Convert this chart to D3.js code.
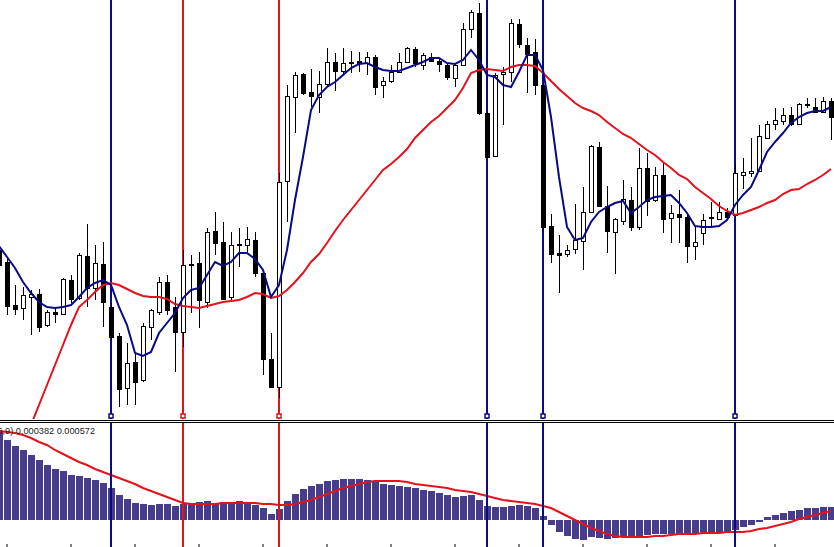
<!DOCTYPE html>
<html><head><meta charset="utf-8">
<script src="https://cdn.jsdelivr.net/npm/d3@7"></script>
<style>html,body{margin:0;padding:0;background:#fff;overflow:hidden}svg{display:block}</style>
</head><body><svg id="c" width="834" height="547"></svg>
<script>
// bar index (-1 = partially visible first bar)
const barIndex = d3.range(-1, 104);
// prices in points above 1.31000
const openP = [350,338,295,292,303,306,275,288,286,320,
 302,344,312,336,293,264,212,238,220,273,
 288,318,293,268,336,337,298,369,358,303,
 356,355,360,327,241,213,419,503,526,508,
 503,516,538,529,538,539,537,543,515,519,
 528,538,551,535,543,539,535,522,535,571,
 587,487,444,526,528,576,555,548,515,374,
 347,346,351,359,388,453,394,368,379,400,
 373,432,400,425,382,386,383,354,367,382,
 381,388,385,425,427,429,462,476,479,485,
 476,496,493,488,499];
const highP = [355,341,315,313,310,311,290,293,322,325,
 347,376,355,358,297,267,257,247,277,291,
 323,325,303,350,345,348,372,388,378,368,
 372,373,368,328,267,427,515,528,527,531,
 529,552,547,552,549,548,548,545,523,535,
 547,553,553,547,547,542,537,537,577,590,
 597,488,527,533,581,581,562,561,517,386,
 365,355,396,413,455,458,414,382,420,413,
 452,447,433,437,395,410,386,373,386,398,
 398,392,435,442,462,475,479,492,492,493,
 497,502,502,503,502];
const lowP = [332,285,285,280,265,268,273,277,285,297,
 300,293,300,273,260,193,195,195,218,260,
 285,285,228,253,287,272,292,345,300,300,
 333,348,323,225,212,202,378,467,505,493,
 487,513,509,525,527,528,525,505,502,517,
 527,537,533,530,538,528,520,513,535,562,
 485,442,443,475,518,552,507,505,370,337,
 307,343,346,330,388,393,347,326,375,369,
 370,384,398,367,357,357,337,340,355,373,
 380,383,385,411,423,429,461,470,475,474,
 475,492,487,487,460];
const closeP = [335,294,291,305,306,273,288,286,321,301,
 345,312,337,298,263,211,237,218,274,290,
 318,290,268,335,335,300,368,357,301,355,
 355,361,327,241,213,418,504,525,507,504,
 516,538,529,537,537,537,543,513,519,528,
 538,552,537,545,539,536,523,535,571,588,
 487,443,525,528,577,556,546,515,373,346,
 345,350,360,388,454,394,369,381,401,373,
 432,399,425,381,387,383,354,358,380,383,
 388,383,427,428,429,464,476,480,485,476,
 496,495,488,499,483];
const maFast = [354,343,332,318,307,298,293,292,293,295,
 303,312,317,320,315,293,275,247,244,248,
 267,277,287,302,310,312,325,338,334,338,
 347,347,341,330,303,315,350,400,443,490,
 505,513,518,525,532,536,537,533,530,529,
 529,532,535,538,542,542,537,536,540,550,
 540,525,523,515,513,528,545,545,530,483,
 423,373,360,362,378,388,393,397,399,387,
 393,400,403,404,405,397,387,374,373,373,
 374,380,395,405,413,430,448,458,467,477,
 483,487,489,489,493];
const maSlow = [null,null,null,null,175,195,215,235,255,275,
 293,300,308,315,317,315,311,307,304,303,
 303,301,296,294,293,292,294,296,298,299,
 300,303,307,306,302,304,310,318,327,338,
 346,357,369,380,390,400,410,420,430,436,
 443,451,462,470,478,484,492,500,512,527,
 530,531,530,529,533,535,535,534,527,519,
 511,504,497,492,489,485,478,472,466,462,
 456,450,445,438,432,425,421,413,407,401,
 394,389,385,387,390,393,397,400,406,410,
 411,416,420,425,431];
// MACD (12,26,9) in scaled units
const macdHist = [89,80,74,70,65,60,55,51,49,45,
 44,42,40,37,32,25,21,17,16,15,
 16,16,14,16,17,18,19,17,18,18,
 19,18,15,12,6,11,19,26,31,34,
 36,39,40,41,41,41,40,38,36,35,
 34,33,32,30,29,27,25,23,24,25,
 20,14,13,13,14,15,14,12,4,-5,
 -12,-16,-19,-20,-17,-18,-19,-18,-17,-17,
 -16,-15,-14,-14,-14,-14,-14,-14,-13,-13,
 -13,-13,-10,-7,-5,-2,3,5,7,9,
 10,12,12,13,13];
const macdSignal = [89,88,87,85,82,78,75,70,66,62,
 58,55,51,48,45,42,39,36,32,29,
 26,23,20,17,16,16,16,16,17,17,
 17,17,17,16,16,15,15,16,18,20,
 23,26,29,32,34,36,38,39,39,39,
 39,38,36,35,34,33,32,30,29,28,
 26,24,22,20,19,18,17,16,14,12,
 8,4,0,-4,-8,-11,-14,-16,-17,-17,
 -17,-17,-16,-16,-15,-14,-14,-14,-13,-13,
 -13,-12,-12,-12,-11,-9,-8,-6,-4,-2,
 1,3,5,7,9];
const vlineIdx = [13, 22, 34, 60, 67, 91];
const vlineKind = ["blue","red","red","blue","blue","blue"];
const tickIdx = [0,8,16,24,32,40,48,56,64,72,80,88,96];
const macdLabel = "MACD(12,26,9) 0.000382 0.000572";

const W = 834, H = 547;
const C = {blue:"#0a0a84", red:"#e3121c", hist:"#483d8b", ink:"#000"};
const svg = d3.select("#c");
const x = d3.scaleBand().domain(barIndex).range([-5, 835]).paddingInner(0);
const cx = i => x(i) + x.bandwidth() / 2;
const y = d3.scaleLinear().domain([182, 600]).range([418, 0]);
const ym = d3.scaleLinear().domain([-27, 98]).range([547, 422]);

const defs = svg.append("defs");
defs.append("clipPath").attr("id","cm").append("rect").attr("x",0).attr("y",0).attr("width",W).attr("height",419);
defs.append("clipPath").attr("id","cd").append("rect").attr("x",0).attr("y",423).attr("width",W).attr("height",124);

svg.append("rect").attr("width",W).attr("height",H).attr("fill","#fff");

function vlines(g, y1, y2) {
  vlineIdx.forEach((k, i) => {
    g.append("line").attr("x1", cx(k)).attr("x2", cx(k)).attr("y1", y1).attr("y2", y2)
      .attr("stroke", C[vlineKind[i]]).attr("stroke-width", 2);
  });
}

// main panel: vertical lines behind the candles
vlines(svg.append("g"), 0, 419);
const gm = svg.append("g").attr("clip-path","url(#cm)");
const bars = barIndex.map((k, i) => ({k, o: openP[i], h: highP[i], l: lowP[i], c: closeP[i]}));
gm.selectAll("line.w").data(bars).join("line").attr("class","w")
  .attr("x1", d => cx(d.k)+0.5).attr("x2", d => cx(d.k)+0.5)
  .attr("y1", d => y(d.h)).attr("y2", d => y(d.l))
  .attr("stroke", C.ink).attr("stroke-width", 1).attr("shape-rendering","crispEdges");
gm.selectAll("rect.b").data(bars).join("rect").attr("class","b")
  .attr("x", d => cx(d.k)-1.5).attr("width", 4)
  .attr("y", d => Math.round(y(Math.max(d.o,d.c)))+0.5)
  .attr("height", d => Math.max(0, Math.round(Math.abs(y(d.o)-y(d.c)))))
  .attr("fill", d => d.c >= d.o ? "#fff" : "#000")
  .attr("stroke", C.ink).attr("stroke-width", 1).attr("shape-rendering","crispEdges");

const lineFn = d3.line().defined(d => d.v != null).x(d => cx(d.k)).y(d => y(d.v));
gm.append("path").datum(barIndex.map((k,i)=>({k, v: maSlow[i]})))
  .attr("d", lineFn).attr("fill","none").attr("stroke", C.red).attr("stroke-width", 2);
gm.append("path").datum(barIndex.map((k,i)=>({k, v: maFast[i]})))
  .attr("d", lineFn).attr("fill","none").attr("stroke", C.blue).attr("stroke-width", 2);

// MACD panel
const gd = svg.append("g").attr("clip-path","url(#cd)");
gd.selectAll("rect.h").data(barIndex.map((k,i)=>({k, v: macdHist[i]}))).join("rect").attr("class","h")
  .attr("x", d => cx(d.k)-3).attr("width", 7)
  .attr("y", d => Math.min(ym(d.v), ym(0)))
  .attr("height", d => Math.abs(ym(d.v)-ym(0)))
  .attr("fill", C.hist).attr("shape-rendering","crispEdges");
gd.append("path").datum(barIndex.map((k,i)=>({k, v: macdSignal[i]})))
  .attr("d", d3.line().x(d => cx(d.k)).y(d => ym(d.v)))
  .attr("fill","none").attr("stroke", C.red).attr("stroke-width", 2);
// vertical lines on top in the MACD window
vlines(svg.append("g"), 423, H);

// separator
svg.append("line").attr("x1",0).attr("x2",W).attr("y1",420.5).attr("y2",420.5).attr("stroke","#000");
svg.append("line").attr("x1",0).attr("x2",W).attr("y1",422.5).attr("y2",422.5).attr("stroke","#000");

// markers at bottom of vertical lines
vlineIdx.forEach((k, i) => {
  svg.append("rect").attr("x", cx(k)-2).attr("y", 414).attr("width", 4).attr("height", 4)
    .attr("fill","#fff").attr("stroke", C[vlineKind[i]]).attr("stroke-width", 1.5);
});

svg.append("text").attr("x", 95).attr("y", 434).attr("text-anchor","end")
  .attr("font-family","'Liberation Sans', Arial, sans-serif").attr("font-size", 9.2).attr("fill","#1a1a1a")
  .text(macdLabel);

// bottom time-axis ticks
const ax = svg.append("g").attr("transform","translate(0,547)")
  .call(d3.axisTop(x).tickValues(tickIdx).tickSize(3).tickFormat(""));
ax.select(".domain").remove();
ax.selectAll(".tick line").attr("stroke","#000");
</script></body></html>
